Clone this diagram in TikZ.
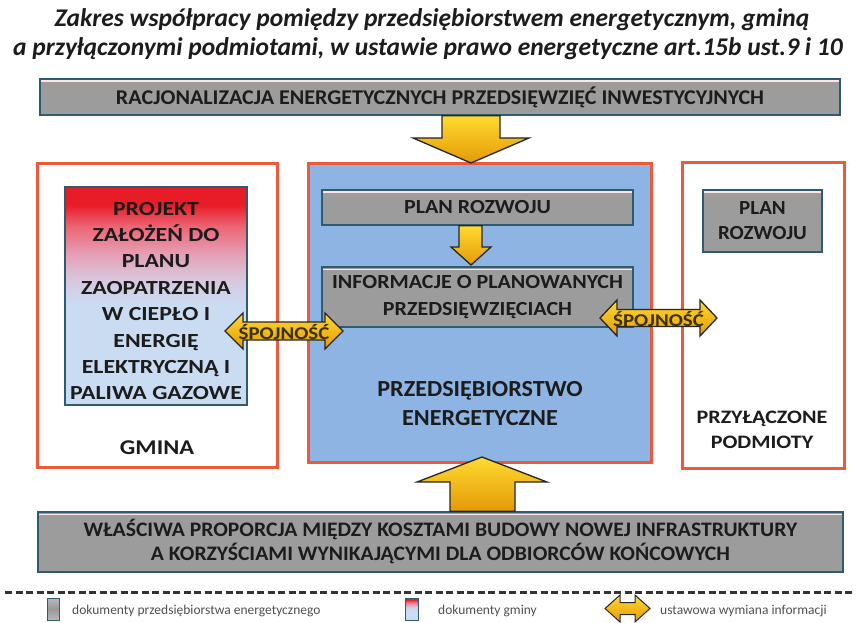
\documentclass[tikz,border=0pt]{standalone}
\usepackage{fontspec}
\setmainfont{Carlito}
\newfontfamily\sfa{Carlito}[FakeStretch=1.05]
\newfontfamily\sfb{Carlito}[FakeStretch=1.10]
\newfontfamily\sfc{Carlito}[FakeStretch=1.16]
\newfontfamily\sfd{Carlito}[FakeStretch=1.19]
\usetikzlibrary{calc}
\definecolor{barfill}{HTML}{9C9C9C}
\definecolor{barline}{HTML}{2F5B6F}
\definecolor{redline}{HTML}{EB5A3C}
\definecolor{centerblue}{HTML}{8DB4E2}
\definecolor{arrowlight}{HTML}{FFDA30}
\definecolor{arrowdark}{HTML}{E39A08}
\definecolor{gred}{HTML}{E81C26}
\definecolor{gredpink}{HTML}{EC6474}
\definecolor{gblue}{HTML}{C9DCF2}
\definecolor{glav}{HTML}{D9C6DC}
\definecolor{gpink}{HTML}{E59CB2}
\definecolor{txt}{HTML}{1C1C1C}
\definecolor{legtxt}{HTML}{505050}
\definecolor{arrtxt}{HTML}{3A3000}
\pgfdeclareverticalshading{gminashade}{100bp}{color(0bp)=(gblue); color(48bp)=(gblue); color(54bp)=(glav); color(60bp)=(gpink); color(66bp)=(gredpink); color(71bp)=(gred); color(100bp)=(gred)}
\pgfdeclareverticalshading{grayshade}{100bp}{color(0bp)=(gray!55); color(25bp)=(gray!55); color(50bp)=(gray!80); color(75bp)=(gray!55); color(100bp)=(gray!55)}
\tikzset{
  bar/.style={draw=barline, line width=1.6bp, fill=barfill, inner sep=0pt, align=center, text=txt,
    font=\fontsize{20bp}{26bp}\sfb\bfseries,
    path picture={\draw[white!90!red, line width=1.4bp] ([yshift=-2.2bp]path picture bounding box.north west) -- ([yshift=-2.2bp]path picture bounding box.north east);}},
  redbox/.style={draw=redline, line width=3bp, inner sep=0pt},
  gradbox/.style={draw=barline, line width=1.4bp, shading=gminashade, inner sep=0pt},
  blockarrow/.style={draw=black!85, line width=1.3bp, top color=arrowlight, bottom color=arrowdark, line join=miter},
  lbl/.style={align=center, text=txt, inner sep=0pt},
  arrlbl/.style={text=arrtxt, inner sep=0pt, font=\fontsize{18bp}{20bp}\sfc\bfseries},
  legend/.style={anchor=west, text=legtxt, inner sep=0pt, font=\fontsize{13.5bp}{15bp}\selectfont},
  titlef/.style={anchor=base, text=txt, inner sep=0pt, font=\fontsize{25.5bp}{28bp}\selectfont\bfseries\itshape}
}
\begin{document}
\begin{tikzpicture}[x=1bp,y=-1bp]
\useasboundingbox (0,0) rectangle (860,623);
\fill[white] (0,0) rectangle (860,623);

% title
\node[titlef] (t1) at (432,27) {Zakres współpracy pomiędzy przedsiębiorstwem energetycznym, gminą};
\node[titlef] (t2) at (428,56) {a przyłączonymi podmiotami, w ustawie prawo energetyczne art.15b ust.9 i 10};

% top bar
\node[bar, minimum width=800bp, minimum height=36bp, font=\fontsize{21bp}{26bp}\sfa\bfseries] (rac) at (440,97) {RACJONALIZACJA ENERGETYCZNYCH PRZEDSIĘWZIĘĆ INWESTYCYJNYCH};

% left box (gmina)
\node[redbox, minimum width=239bp, minimum height=303bp] (gmina) at (157.5,315.5) {};
\node[gradbox, minimum width=182bp, minimum height=218bp] (proj) at (156,296) {};
\node[lbl, font=\fontsize{20bp}{26.4bp}\sfd\bfseries] (projt) at (156,301) {PROJEKT\\ZAŁOŻEŃ DO\\PLANU\\ZAOPATRZENIA\\W CIEPŁO I\\ENERGIĘ\\ELEKTRYCZNĄ I\\PALIWA GAZOWE};
\node[lbl, font=\fontsize{21bp}{24bp}\sfc\bfseries] (gml) at (157,448) {GMINA};

% centre box
\node[redbox, fill=centerblue, minimum width=343bp, minimum height=298bp] (pe) at (479.5,313) {};
\node[bar, minimum width=311bp, minimum height=35bp] (plan) at (477.5,207.5) {PLAN ROZWOJU};
\node[bar, minimum width=311bp, minimum height=60bp, font=\fontsize{20bp}{27bp}\sfb\bfseries] (info) at (477.5,297) {INFORMACJE O PLANOWANYCH\\PRZEDSIĘWZIĘCIACH};
\node[lbl, font=\fontsize{23bp}{29bp}\sfa\bfseries] (pel) at (480,404) {PRZEDSIĘBIORSTWO\\ENERGETYCZNE};

% right box
\node[redbox, minimum width=162bp, minimum height=305bp] (pp) at (763.5,315.5) {};
\node[bar, minimum width=119bp, minimum height=62bp, font=\fontsize{20bp}{25bp}\sfa\bfseries] (plan2) at (762.5,221) {PLAN\\ROZWOJU};
\node[lbl, font=\fontsize{19bp}{25bp}\sfc\bfseries] (ppl) at (762,430) {PRZYŁĄCZONE\\PODMIOTY};

% bottom bar
\node[bar, minimum width=805bp, minimum height=60bp, font=\fontsize{20.6bp}{24bp}\sfa\bfseries] (wlas) at (440.5,542) {WŁAŚCIWA PROPORCJA MIĘDZY KOSZTAMI BUDOWY NOWEJ INFRASTRUKTURY\\A KORZYŚCIAMI WYNIKAJĄCYMI DLA ODBIORCÓW KOŃCOWYCH};

% block arrows
\draw[blockarrow] (442,0 |- rac.south) -- (500,0 |- rac.south) -- (500,138) -- (529,138) -- (471,163) -- (413,138) -- (442,138) -- cycle;
\draw[blockarrow] (459,0 |- plan.south) -- (482,0 |- plan.south) -- (482,247) -- (491,247) -- (471,265) -- (451,247) -- (459,247) -- cycle;
\draw[blockarrow] (450,0 |- wlas.north) -- (450,482) -- (417,482) -- (482,457) -- (547,482) -- (515,482) -- (515,0 |- wlas.north) -- cycle;

% double arrows (spojnosc)
\draw[blockarrow] (225,331) -- (243,313) -- (243,322) -- (325,322) -- (325,313) -- (343,331) -- (325,349) -- (325,340) -- (243,340) -- (243,349) -- cycle;
\node[arrlbl] (sp1) at (284,332) {ŚPOJNOŚĆ};
\draw[blockarrow] (600,318) -- (617,300) -- (617,309.5) -- (700,309.5) -- (700,300) -- (717,318) -- (700,336) -- (700,326.5) -- (617,326.5) -- (617,336) -- cycle;
\node[arrlbl] (sp2) at (658.5,319) {ŚPOJNOŚĆ};

% legend
\draw[line width=3bp, color=black!80, dash pattern=on 7bp off 3.5bp] (5,592) -- (855,592);
\node[draw=barline, line width=0.8bp, shading=grayshade, minimum width=12bp, minimum height=22bp, inner sep=0pt] (leg1) at (53.5,609) {};
\node[legend] (leg1t) at (72,611) {dokumenty przedsiębiorstwa energetycznego};
\node[draw=barline, line width=0.8bp, shading=gminashade, minimum width=13bp, minimum height=22bp, inner sep=0pt] (leg2) at (411.5,609) {};
\node[legend] (leg2t) at (438,611) {dokumenty gminy};
\draw[blockarrow, line width=1bp] (605,608.5) -- (620,595) -- (620,602.5) -- (635,602.5) -- (635,595) -- (650,608.5) -- (635,622) -- (635,614.5) -- (620,614.5) -- (620,622) -- cycle;
\node[legend] (leg3t) at (660,611) {ustawowa wymiana informacji};
\end{tikzpicture}
\end{document}
